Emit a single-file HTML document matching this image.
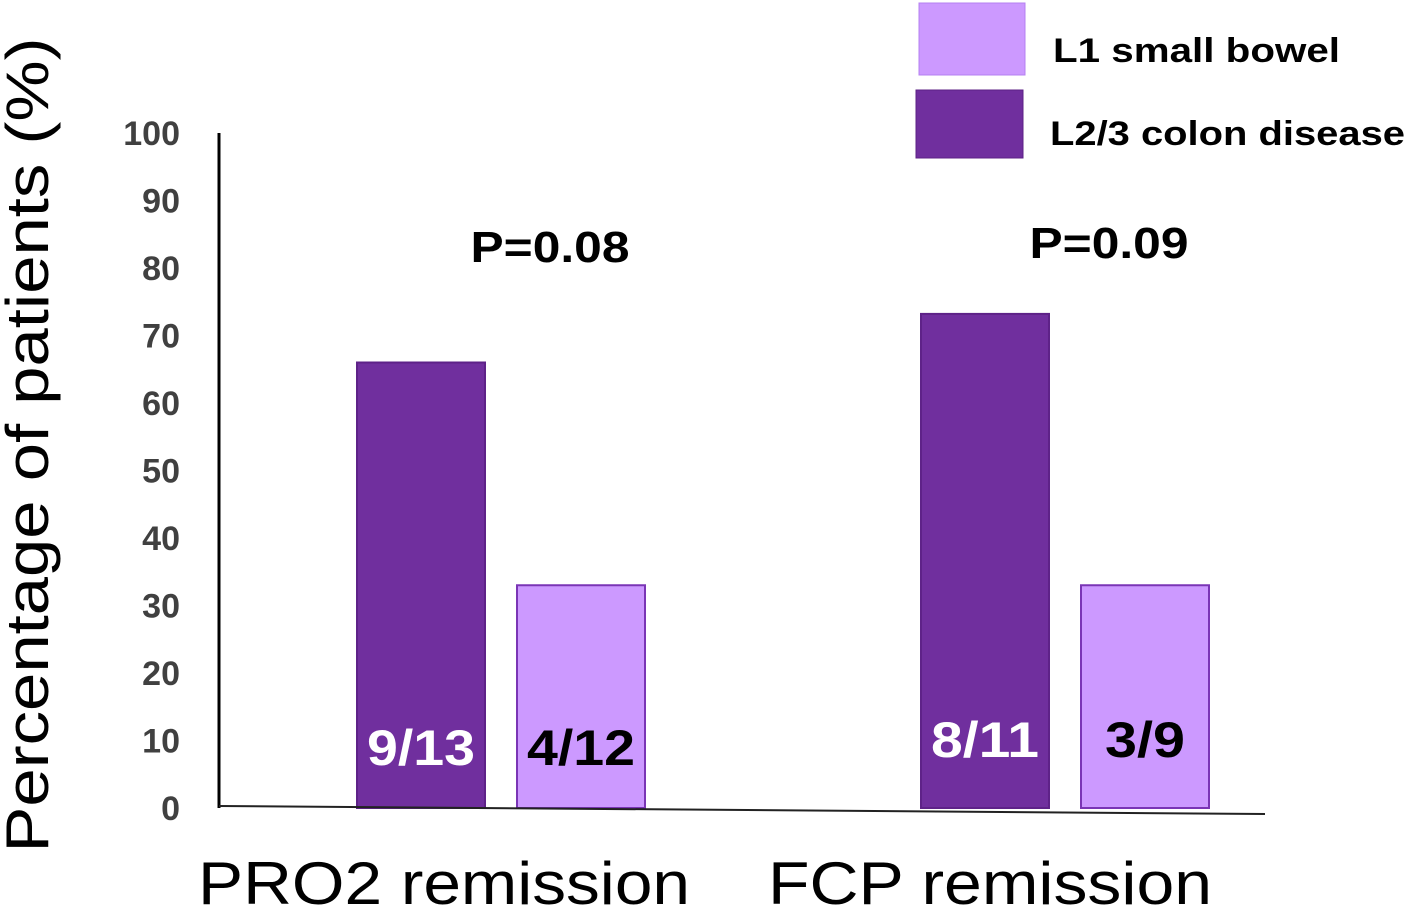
<!DOCTYPE html>
<html><head><meta charset="utf-8"><style>
html,body{margin:0;padding:0;background:#fff;}
svg{display:block;font-family:"Liberation Sans",Arial,sans-serif;}
</style></head><body>
<svg id="chart" width="1417" height="908" viewBox="0 0 1417 908">
<text transform="translate(48,445) rotate(-90)" text-anchor="middle" font-size="60" textLength="815" lengthAdjust="spacingAndGlyphs" fill="#000">Percentage of patients (%)</text>
<g id="ticks"></g>
<line x1="219" y1="133" x2="219" y2="808" stroke="#000" stroke-width="3"/>
<g id="bars"></g>
<line x1="219" y1="806" x2="1265" y2="814" stroke="#222" stroke-width="2"/>
<g id="labels"></g>
<g>
<rect x="919" y="3" width="106" height="72" fill="#cc99ff" stroke="#b580f0" stroke-width="1"/>
<text x="1053" y="62" font-size="34" font-weight="bold" textLength="287" lengthAdjust="spacingAndGlyphs">L1 small bowel</text>
<rect x="916" y="90" width="107" height="68" fill="#702f9e" stroke="#5c2186" stroke-width="1"/>
<text x="1050" y="145" font-size="34" font-weight="bold" textLength="355" lengthAdjust="spacingAndGlyphs">L2/3 colon disease</text>
</g>
</svg>
<script>
const categories = ["PRO2 remission", "FCP remission"];
const colonValues = [66, 73.2];
const smallBowelValues = [33, 33];
const colonLabels = ["9/13", "8/11"];
const smallBowelLabels = ["4/12", "3/9"];
const pValues = ["P=0.08", "P=0.09"];
const yTicks = [0,10,20,30,40,50,60,70,80,90,100];

const NS = "http://www.w3.org/2000/svg";
const y = v => 808 - v * 6.75;
const groupX = i => 357 + i * 564;
const barW = 128, gap = 32;
function mk(tag, attrs, parent, txt) {
  const e = document.createElementNS(NS, tag);
  for (const k in attrs) e.setAttribute(k, attrs[k]);
  if (txt !== undefined) e.textContent = txt;
  parent.appendChild(e);
  return e;
}
const tg = document.getElementById('ticks');
yTicks.forEach(t => {
  const e = mk('text', {x:180, y:y(t)+12, 'text-anchor':'end', 'font-size':34, 'font-weight':'bold', fill:'#404040'}, tg, String(t));
  
  
});
const bg = document.getElementById('bars');
const lg = document.getElementById('labels');
categories.forEach((c, i) => {
  const x0 = groupX(i), x1 = x0 + barW + gap;
  const b1 = mk('rect', {x:x0, y:y(colonValues[i]), width:barW, height:y(0)-y(colonValues[i]), fill:'#702f9e', stroke:'#5e2288', 'stroke-width':2}, bg);
  
  
  const b2 = mk('rect', {x:x1, y:y(smallBowelValues[i]), width:barW, height:y(0)-y(smallBowelValues[i]), fill:'#cc99ff', stroke:'#7a35b5', 'stroke-width':2}, bg);
  
  
  const by = i === 0 ? 765 : 757;
  const l1 = mk('text', {x:x0+barW/2, y:by, 'text-anchor':'middle', 'font-size':50, 'font-weight':'bold', fill:'#fff', textLength:108, lengthAdjust:'spacingAndGlyphs'}, lg, colonLabels[i]);
  
  
  const l2 = mk('text', {x:x1+barW/2, y:by, 'text-anchor':'middle', 'font-size':50, 'font-weight':'bold', fill:'#000', textLength:(i===0?108:80), lengthAdjust:'spacingAndGlyphs'}, lg, smallBowelLabels[i]);
  
  
  const p = mk('text', {x:i===0?550:1109, y:i===0?262:258, 'text-anchor':'middle', 'font-size':44, 'font-weight':'bold', fill:'#000', textLength:159, lengthAdjust:'spacingAndGlyphs'}, lg, pValues[i]);
  
  
  const cl = mk('text', {x:i===0?198:768, y:904, 'font-size':60, fill:'#000', textLength:(i===0?492:444), lengthAdjust:'spacingAndGlyphs'}, lg, c);
  
  
});
</script>
</body></html>
